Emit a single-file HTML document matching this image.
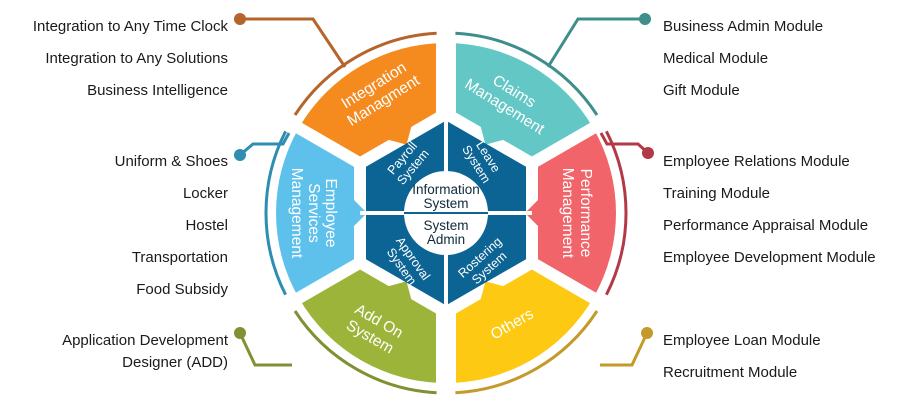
<!DOCTYPE html>
<html><head><meta charset="utf-8"><style>
html,body{margin:0;padding:0;background:#fff;width:899px;height:401px;overflow:hidden}
svg{display:block}
.l{font-family:"Liberation Sans",sans-serif;font-size:15px;fill:#1a1a1a}
.w{font-family:"Liberation Sans",sans-serif;font-size:15.5px;fill:#fff}
.h{font-family:"Liberation Sans",sans-serif;font-size:12.5px;fill:#fff}
.c{font-family:"Liberation Sans",sans-serif;font-size:13.5px;fill:#0d2a3a}
</style></head><body>
<svg width="899" height="401" viewBox="0 0 899 401" xmlns="http://www.w3.org/2000/svg">
<path d="M446,213 L446,43 A170,170 0 0 0 298.8,128 Z" fill="#F58A1F"/>
<path d="M446,213 L593.2,128 A170,170 0 0 0 446,43 Z" fill="#63C7C5"/>
<path d="M446,213 L593.2,298 A170,170 0 0 0 593.2,128 Z" fill="#F0646A"/>
<path d="M446,213 L446,383 A170,170 0 0 0 593.2,298 Z" fill="#FDC913"/>
<path d="M446,213 L298.8,298 A170,170 0 0 0 446,383 Z" fill="#9DB43A"/>
<path d="M446,213 L298.8,128 A170,170 0 0 0 298.8,298 Z" fill="#5EC1EC"/>
<line x1="446" y1="25" x2="446" y2="400" stroke="#fff" stroke-width="20"/>
<line x1="610.5" y1="118" x2="281.5" y2="308" stroke="#fff" stroke-width="12"/>
<line x1="281.5" y1="118" x2="610.5" y2="308" stroke="#fff" stroke-width="12"/>
<polygon points="446,106.8 538,160 538,266 446,319.2 354,266 354,160" fill="#fff"/>
<polygon points="539,199 539,227 525,213" fill="#F0646A"/>
<polygon points="539,199 539,227 525,213" fill="#63C7C5" transform="rotate(-60 446 213)"/>
<polygon points="539,199 539,227 525,213" fill="#F58A1F" transform="rotate(-120 446 213)"/>
<polygon points="539,199 539,227 525,213" fill="#5EC1EC" transform="rotate(180 446 213)"/>
<polygon points="539,199 539,227 525,213" fill="#9DB43A" transform="rotate(120 446 213)"/>
<polygon points="539,199 539,227 525,213" fill="#FDC913" transform="rotate(60 446 213)"/>
<polygon points="446,120.6 526,166.8 526,259.2 446,305.4 366,259.2 366,166.8" fill="#0C6494"/>
<line x1="446" y1="115" x2="446" y2="310" stroke="#fff" stroke-width="4"/>
<line x1="360" y1="213" x2="532" y2="213" stroke="#fff" stroke-width="4"/>
<circle cx="446" cy="213" r="42" fill="#fff"/>
<line x1="404" y1="213" x2="488" y2="213" stroke="#0C6494" stroke-width="2"/>
<text class="c" x="446" y="194" text-anchor="middle">Information</text>
<text class="c" x="446" y="208" text-anchor="middle">System</text>
<text class="c" x="446" y="230" text-anchor="middle">System</text>
<text class="c" x="446" y="244" text-anchor="middle">Admin</text>
<g transform="translate(407,162) rotate(-50)"><text class="h" text-anchor="middle" y="-2">Payroll</text><text class="h" text-anchor="middle" y="12">System</text></g>
<g transform="translate(483,160) rotate(58)"><text class="h" text-anchor="middle" y="-2">Leave</text><text class="h" text-anchor="middle" y="12">System</text></g>
<g transform="translate(408,262) rotate(55)"><text class="h" text-anchor="middle" y="-2">Approval</text><text class="h" text-anchor="middle" y="12">System</text></g>
<g transform="translate(484,262) rotate(-42)"><text class="h" text-anchor="middle" y="-2">Rostering</text><text class="h" text-anchor="middle" y="12">System</text></g>
<g transform="translate(378,92) rotate(-32)"><text class="w" text-anchor="middle" y="-3">Integration</text><text class="w" text-anchor="middle" y="15">Managment</text></g>
<g transform="translate(510,98) rotate(32)"><text class="w" text-anchor="middle" y="-3">Claims</text><text class="w" text-anchor="middle" y="15">Management</text></g>
<g transform="translate(578,213) rotate(90)"><text class="w" text-anchor="middle" y="-3">Performance</text><text class="w" text-anchor="middle" y="15">Management</text></g>
<g transform="translate(313,213) rotate(90)"><text class="w" text-anchor="middle" y="-13">Employee</text><text class="w" text-anchor="middle" y="4">Services</text><text class="w" text-anchor="middle" y="21">Management</text></g>
<g transform="translate(375,328) rotate(30)"><text class="w" text-anchor="middle" y="-3">Add On</text><text class="w" text-anchor="middle" y="15">System</text></g>
<g transform="translate(512,324) rotate(-30)"><text class="w" text-anchor="middle" y="5">Others</text></g>
<g fill="none" stroke-width="3">
<path d="M436.6,33.3 A180,180 0 0 0 295,115" stroke="#B5652B"/>
<path d="M597,115 A180,180 0 0 0 455.4,33.3" stroke="#3E8F8C"/>
<path d="M606.4,294.7 A180,180 0 0 0 606.4,131.3" stroke="#B23A48"/>
<path d="M455.4,392.7 A180,180 0 0 0 597,311" stroke="#C49A2A"/>
<path d="M295,311 A180,180 0 0 0 436.6,392.7" stroke="#7E9234"/>
<path d="M285.6,131.3 A180,180 0 0 0 285.6,294.7" stroke="#2E8DB0"/>
</g>
<g fill="none" stroke-width="3">
<polyline points="240,19 313,19 345,67" stroke="#B5652B"/>
<polyline points="645,19 578,19 548,67" stroke="#3E8F8C"/>
<polyline points="240,155 253,144 283,144 289,133" stroke="#2E8DB0"/>
<polyline points="648,153 638,144 607,144 601,133" stroke="#B23A48"/>
<polyline points="240,333 255,365 292,365" stroke="#7E9234"/>
<polyline points="647,333 632,365 600,365" stroke="#C49A2A"/>
</g>
<circle cx="240" cy="19" r="6" fill="#B5652B"/>
<circle cx="645" cy="19" r="6" fill="#3E8F8C"/>
<circle cx="240" cy="155" r="6" fill="#2E8DB0"/>
<circle cx="648" cy="153" r="6" fill="#B23A48"/>
<circle cx="240" cy="333" r="6" fill="#7E9234"/>
<circle cx="647" cy="333" r="6" fill="#C49A2A"/>
<g text-anchor="end">
<text class="l" x="228" y="31">Integration to Any Time Clock</text>
<text class="l" x="228" y="63">Integration to Any Solutions</text>
<text class="l" x="228" y="95">Business Intelligence</text>
<text class="l" x="228" y="166">Uniform &amp; Shoes</text>
<text class="l" x="228" y="198">Locker</text>
<text class="l" x="228" y="230">Hostel</text>
<text class="l" x="228" y="262">Transportation</text>
<text class="l" x="228" y="294">Food Subsidy</text>
<text class="l" x="228" y="345">Application Development</text>
<text class="l" x="228" y="367">Designer (ADD)</text>
</g>
<g>
<text class="l" x="663" y="31">Business Admin Module</text>
<text class="l" x="663" y="63">Medical Module</text>
<text class="l" x="663" y="95">Gift Module</text>
<text class="l" x="663" y="166">Employee Relations Module</text>
<text class="l" x="663" y="198">Training Module</text>
<text class="l" x="663" y="230">Performance Appraisal Module</text>
<text class="l" x="663" y="262">Employee Development Module</text>
<text class="l" x="663" y="345">Employee Loan Module</text>
<text class="l" x="663" y="377">Recruitment Module</text>
</g>
</svg>
</body></html>
